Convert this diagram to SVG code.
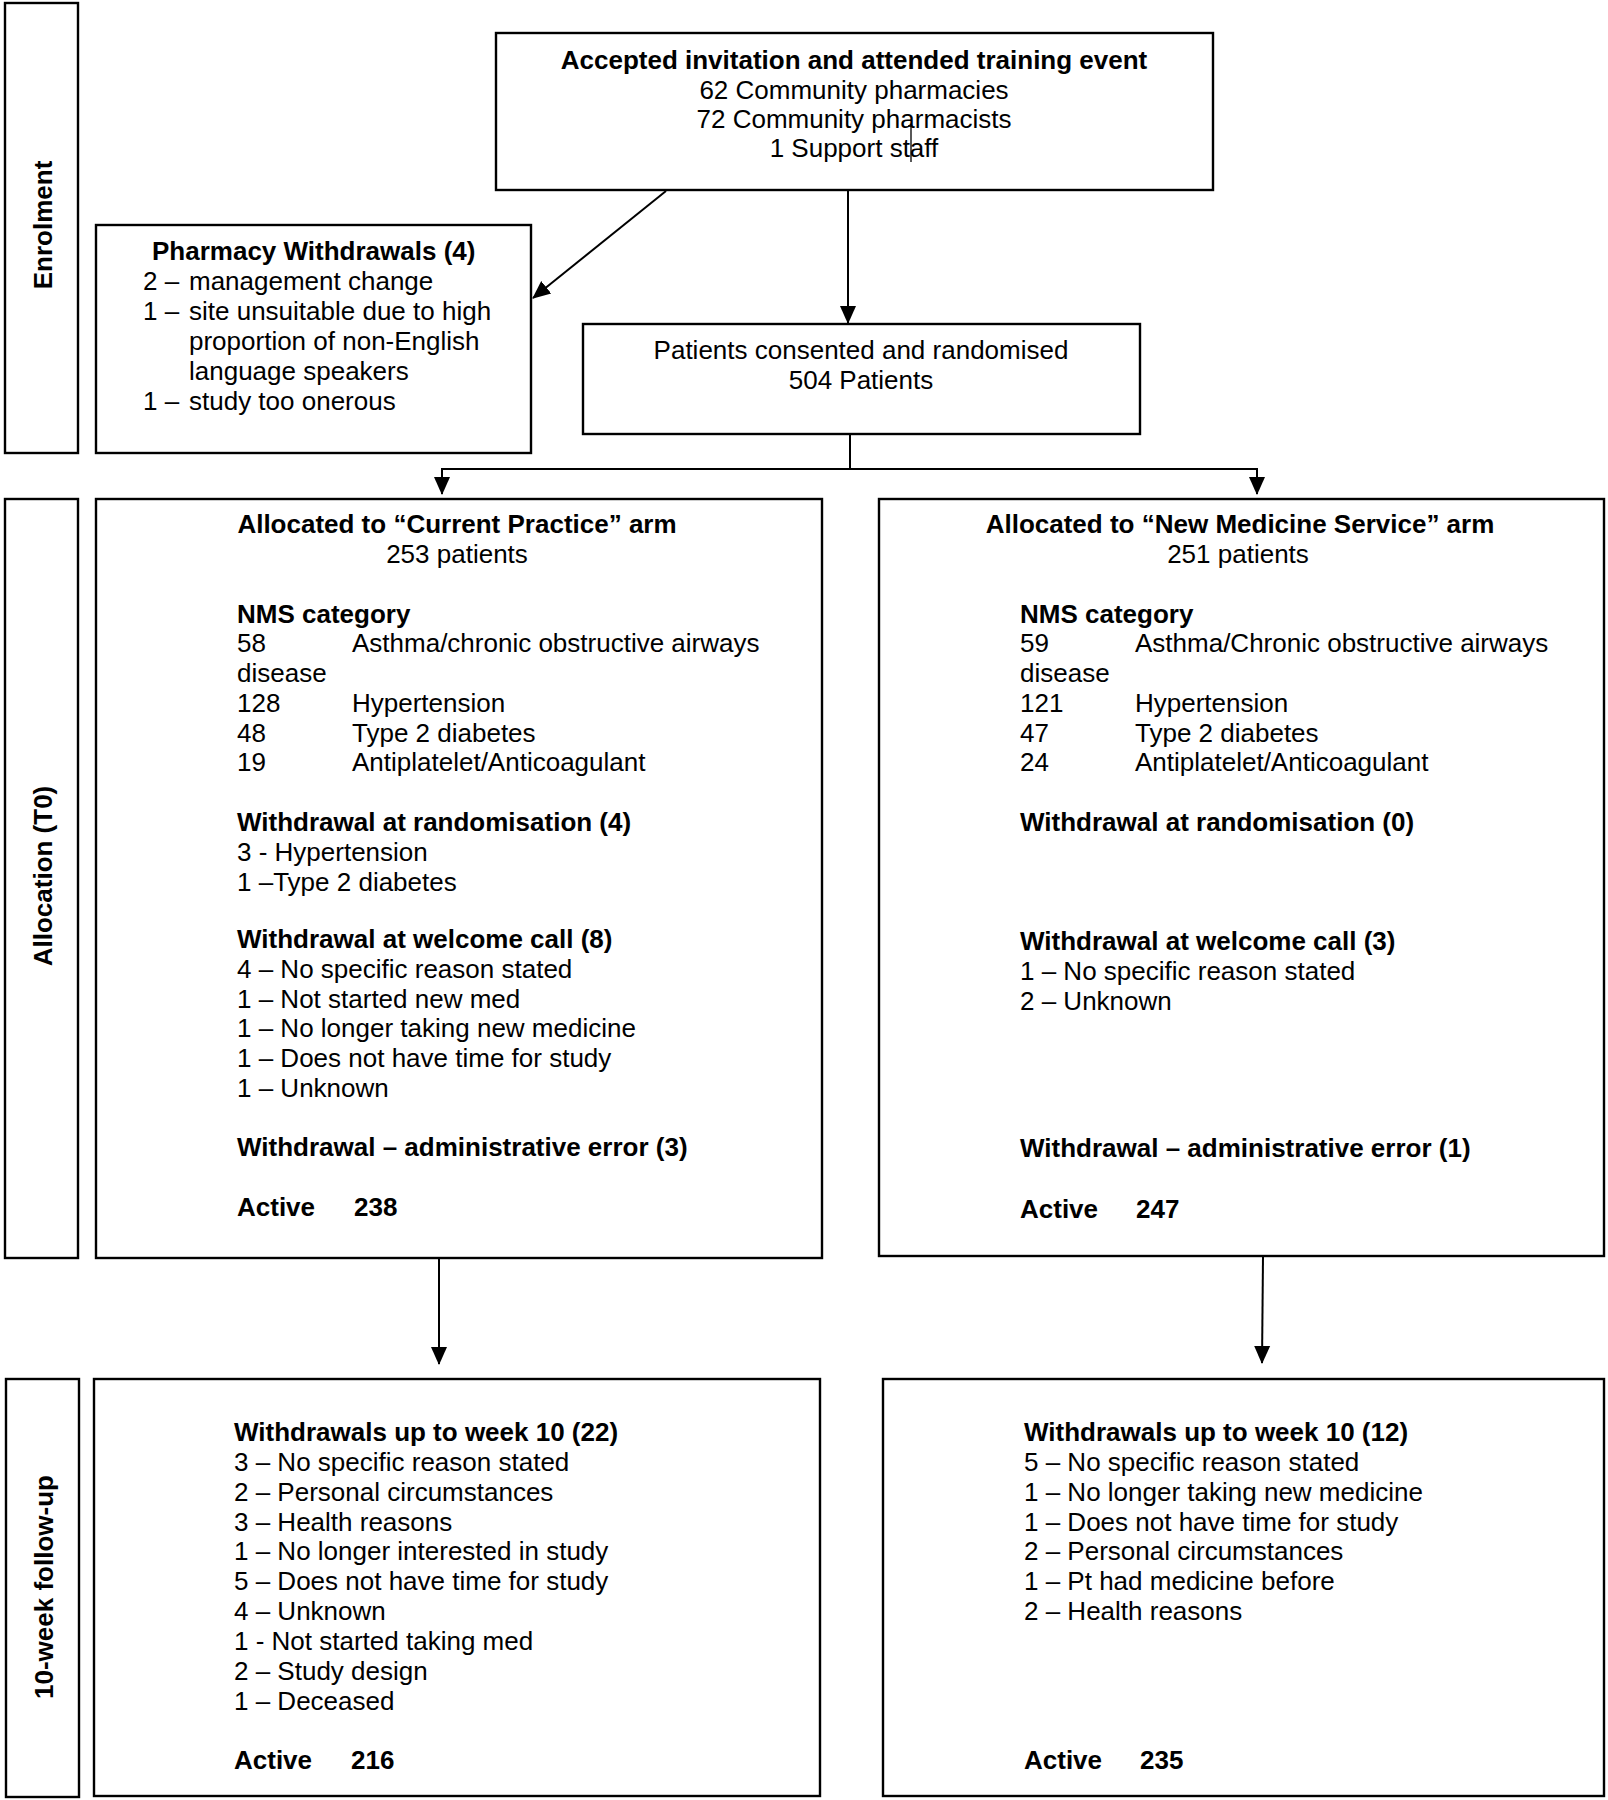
<svg xmlns="http://www.w3.org/2000/svg" width="1608" height="1800" viewBox="0 0 1608 1800">
<defs>
<marker id="ah" markerUnits="userSpaceOnUse" markerWidth="18" markerHeight="18" viewBox="0 0 18 18" refX="17" refY="9" orient="auto"><path d="M0,1 L18,9 L0,17 z" fill="#000"/></marker>
</defs>
<style>
.box{fill:#fff;stroke:#000;stroke-width:2.4}
text{font-family:"Liberation Sans",Arial,sans-serif;font-size:26px;fill:#000}
.b{font-weight:bold}
.c{text-anchor:middle}
.conn{stroke:#000;stroke-width:2;fill:none}
</style>
<rect width="1608" height="1800" fill="#fff"/>

<g id="stage-enrolment">
<rect class="box" x="5" y="3" width="73" height="450"/>
<text class="b c" transform="translate(52,225) rotate(-90)">Enrolment</text>
</g>
<g id="stage-allocation">
<rect class="box" x="5" y="499" width="73" height="759"/>
<text class="b c" transform="translate(52,876) rotate(-90)">Allocation (T0)</text>
</g>
<g id="stage-followup">
<rect class="box" x="6" y="1379" width="73" height="418"/>
<text class="b c" transform="translate(53,1587) rotate(-90)">10-week follow-up</text>
</g>

<g id="connectors">
<line class="conn" x1="666" y1="191" x2="533" y2="298" marker-end="url(#ah)"/>
<line class="conn" x1="848" y1="191" x2="848" y2="323" marker-end="url(#ah)"/>
<polyline class="conn" points="850,434 850,469"/>
<polyline class="conn" points="442,469 1257,469"/>
<line class="conn" x1="442" y1="468" x2="442" y2="494" marker-end="url(#ah)"/>
<line class="conn" x1="1257" y1="468" x2="1257" y2="494" marker-end="url(#ah)"/>
<line class="conn" x1="439" y1="1258" x2="439" y2="1364" marker-end="url(#ah)"/>
<line class="conn" x1="1263" y1="1257" x2="1262" y2="1363" marker-end="url(#ah)"/>
</g>

<g id="node-training">
<rect class="box" x="496" y="33" width="717" height="157"/>
<text class="b c" x="854" y="69">Accepted invitation and attended training event</text>
<text class="c" x="854" y="99">62 Community pharmacies</text>
<text class="c" x="854" y="128">72 Community pharmacists</text>
<text class="c" x="854" y="157">1 Support staff</text>
<path d="M908,126 L911,126 L911,162" fill="none" stroke="#000" stroke-width="1.3"/>
</g>

<g id="node-pharmacy-withdrawals">
<rect class="box" x="96" y="225" width="435" height="228"/>
<text class="b" x="152" y="260">Pharmacy Withdrawals (4)</text>
<text x="143" y="290">2 –</text><text x="189" y="290">management change</text>
<text x="143" y="320">1 –</text><text x="189" y="320">site unsuitable due to high</text>
<text x="189" y="350">proportion of non-English</text>
<text x="189" y="380">language speakers</text>
<text x="143" y="410">1 –</text><text x="189" y="410">study too onerous</text>
</g>

<g id="node-randomised">
<rect class="box" x="583" y="324" width="557" height="110"/>
<text class="c" x="861" y="359">Patients consented and randomised</text>
<text class="c" x="861" y="389">504 Patients</text>
</g>

<g id="node-current-practice">
<rect class="box" x="96" y="499" width="726" height="759"/>
<text class="b c" x="457" y="533">Allocated to “Current Practice” arm</text>
<text class="c" x="457" y="563">253 patients</text>
<text class="b" x="237" y="623">NMS category</text>
<text x="237" y="652">58</text><text x="352" y="652">Asthma/chronic obstructive airways</text>
<text x="237" y="682">disease</text>
<text x="237" y="712">128</text><text x="352" y="712">Hypertension</text>
<text x="237" y="742">48</text><text x="352" y="742">Type 2 diabetes</text>
<text x="237" y="771">19</text><text x="352" y="771">Antiplatelet/Anticoagulant</text>
<text class="b" x="237" y="831">Withdrawal at randomisation (4)</text>
<text x="237" y="861">3 - Hypertension</text>
<text x="237" y="891">1 –Type 2 diabetes</text>
<text class="b" x="237" y="948">Withdrawal at welcome call (8)</text>
<text x="237" y="978">4 – No specific reason stated</text>
<text x="237" y="1008">1 – Not started new med</text>
<text x="237" y="1037">1 – No longer taking new medicine</text>
<text x="237" y="1067">1 – Does not have time for study</text>
<text x="237" y="1097">1 – Unknown</text>
<text class="b" x="237" y="1156">Withdrawal – administrative error (3)</text>
<text class="b" x="237" y="1216">Active</text><text class="b" x="354" y="1216">238</text>
</g>

<g id="node-nms">
<rect class="box" x="879" y="499" width="725" height="757"/>
<text class="b c" x="1240" y="533">Allocated to “New Medicine Service” arm</text>
<text class="c" x="1238" y="563">251 patients</text>
<text class="b" x="1020" y="623">NMS category</text>
<text x="1020" y="652">59</text><text x="1135" y="652">Asthma/Chronic obstructive airways</text>
<text x="1020" y="682">disease</text>
<text x="1020" y="712">121</text><text x="1135" y="712">Hypertension</text>
<text x="1020" y="742">47</text><text x="1135" y="742">Type 2 diabetes</text>
<text x="1020" y="771">24</text><text x="1135" y="771">Antiplatelet/Anticoagulant</text>
<text class="b" x="1020" y="831">Withdrawal at randomisation (0)</text>
<text class="b" x="1020" y="950">Withdrawal at welcome call (3)</text>
<text x="1020" y="980">1 – No specific reason stated</text>
<text x="1020" y="1010">2 – Unknown</text>
<text class="b" x="1020" y="1157">Withdrawal – administrative error (1)</text>
<text class="b" x="1020" y="1218">Active</text><text class="b" x="1136" y="1218">247</text>
</g>

<g id="node-cp-week10">
<rect class="box" x="94" y="1379" width="726" height="417"/>
<text class="b" x="234" y="1441">Withdrawals up to week 10 (22)</text>
<text x="234" y="1471">3 – No specific reason stated</text>
<text x="234" y="1501">2 – Personal circumstances</text>
<text x="234" y="1531">3 – Health reasons</text>
<text x="234" y="1560">1 – No longer interested in study</text>
<text x="234" y="1590">5 – Does not have time for study</text>
<text x="234" y="1620">4 – Unknown</text>
<text x="234" y="1650">1 - Not started taking med</text>
<text x="234" y="1680">2 – Study design</text>
<text x="234" y="1710">1 – Deceased</text>
<text class="b" x="234" y="1769">Active</text><text class="b" x="351" y="1769">216</text>
</g>

<g id="node-nms-week10">
<rect class="box" x="883" y="1379" width="721" height="417"/>
<text class="b" x="1024" y="1441">Withdrawals up to week 10 (12)</text>
<text x="1024" y="1471">5 – No specific reason stated</text>
<text x="1024" y="1501">1 – No longer taking new medicine</text>
<text x="1024" y="1531">1 – Does not have time for study</text>
<text x="1024" y="1560">2 – Personal circumstances</text>
<text x="1024" y="1590">1 – Pt had medicine before</text>
<text x="1024" y="1620">2 – Health reasons</text>
<text class="b" x="1024" y="1769">Active</text><text class="b" x="1140" y="1769">235</text>
</g>
</svg>
